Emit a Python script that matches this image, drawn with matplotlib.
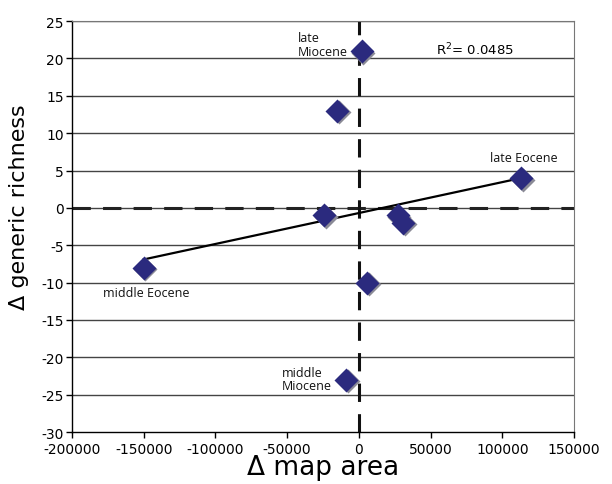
import numpy as np
import matplotlib
matplotlib.use("Agg")
import matplotlib.pyplot as plt
import matplotlib.transforms as mtransforms

# change in map area vs change in generic richness, one point per interval
map_area = [-150000, -24000, -15000, -9000, 2000, 6000, 27000, 31000, 113000]
richness = [-8, -1, 13, -23, 21, -10, -1, -2, 4]

# labelled intervals: (text, x, y) of the point they refer to
labels = [
    ("late\nMiocene", 2000, 21),
    ("late Eocene", 113000, 4),
    ("middle Eocene", -150000, -8),
    ("middle\nMiocene", -9000, -23),
]
r2_text = "R$^2$= 0.0485"

x = np.array(map_area, dtype=float)
y = np.array(richness, dtype=float)

fig = plt.figure(figsize=(6.12, 4.85), dpi=100)
ax = fig.add_axes([0.1176, 0.107, 0.8204, 0.8476])

ax.set_xlim(-200000, 150000)
ax.set_ylim(-30, 25)
ax.set_xticks(np.arange(-200000, 150001, 50000))
ax.set_yticks(np.arange(-30, 26, 5))

# horizontal grid
for yy in np.arange(-25, 26, 5):
    ax.axhline(yy, color="#444444", lw=1.0, zorder=1)

# zero reference lines
ax.axhline(0, color="#222222", lw=2.2, dashes=(6, 4), zorder=2)
ax.axvline(0, color="#111111", lw=2.2, dashes=(6, 4), zorder=2)

# linear fit
slope, icpt = np.polyfit(x, y, 1)
xf = np.array([x.min(), x.max()])
ax.plot(xf, slope * xf + icpt, color="black", lw=1.6, zorder=3)

# diamonds with a drop shadow
shadow = mtransforms.offset_copy(ax.transData, fig=fig, x=1.2, y=-1.2, units="points")
ax.plot(x, y, "D", ms=12, color="#8a8a96", mec="none", transform=shadow, zorder=4)
ax.plot(x, y, "D", ms=12, color="#2b2a7e", mec="none", zorder=5)

ann_font = dict(fontsize=9, family="Open Sans", color="#111111")
ax.annotate(labels[0][0], (labels[0][1], labels[0][2]), xytext=(-10, -5), textcoords="offset points",
            ha="right", va="bottom", multialignment="left", linespacing=1.05, **ann_font)
ax.annotate(labels[1][0], (labels[1][1], labels[1][2]), xytext=(2, 10), textcoords="offset points",
            ha="center", va="bottom", **ann_font)
ax.annotate(labels[2][0], (labels[2][1], labels[2][2]), xytext=(-29, -13), textcoords="offset points",
            ha="left", va="top", **ann_font)
ax.annotate(labels[3][0], (labels[3][1], labels[3][2]), xytext=(-10, -9), textcoords="offset points",
            ha="right", va="bottom", multialignment="left", linespacing=1.05, **ann_font)
ax.text(81000, 21.2, r2_text, ha="center", va="center", fontsize=9.5, family="DejaVu Sans")

for s in ["top", "right"]:
    ax.spines[s].set_color("#777777")
for s in ["left", "bottom"]:
    ax.spines[s].set_color("black")
    ax.spines[s].set_linewidth(1.0)

ax.tick_params(direction="out", length=4, width=1, labelsize=10)
ax.tick_params(axis="y", pad=2)
ax.tick_params(axis="x", pad=3)
ax.set_xticklabels([str(int(v)) for v in ax.get_xticks()])
ax.set_yticklabels([str(int(v)) for v in ax.get_yticks()])

ax.set_xlabel("\u0394 map area", fontsize=19, labelpad=-1)
ax.set_ylabel("\u0394 generic richness", fontsize=16, labelpad=6)
ax.yaxis.set_label_coords(-0.085, 0.55)

fig.savefig("out.png", dpi=100)
